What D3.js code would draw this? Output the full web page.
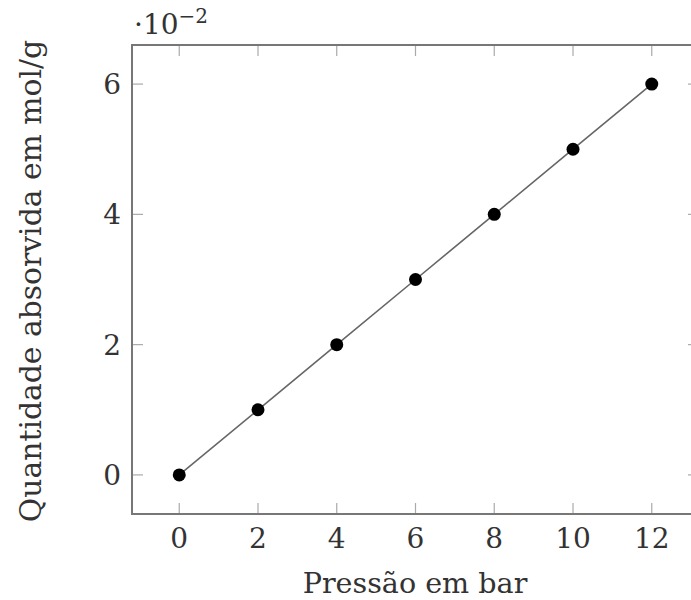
<!DOCTYPE html>
<html>
<head>
<meta charset="utf-8">
<title>D3</title>
<script src="https://d3js.org/d3.v7.min.js"></script>
<style>
body { margin: 0; background: #fff; }
</style>
</head>
<body>
<script>

var pressao = [0, 2, 4, 6, 8, 10, 12];
var quantidade = [0, 1, 2, 3, 4, 5, 6];   // em unidades de 10^-2
var xTicks = [0, 2, 4, 6, 8, 10, 12];
var yTicks = [0, 2, 4, 6];

var fonte = "'DejaVu Serif', serif";

var margin = {top: 45, right: -8, bottom: 86, left: 132},
    width = 691 - margin.left - margin.right,
    height = 600 - margin.top - margin.bottom;

var svg = d3.select("body").append("svg")
    .attr("width", 691)
    .attr("height", 600);

var g = svg.append("g")
    .attr("transform", "translate(" + margin.left + "," + margin.top + ")");

var x = d3.scaleLinear().domain([-1.2, 13.2]).range([0, width]);
var y = d3.scaleLinear().domain([-0.6, 6.6]).range([height, 0]);

// ticks on all four sides, pointing inward
var tickLen = 11;
var tickColor = "#aaa";
xTicks.forEach(function(t) {
  g.append("line").attr("x1", x(t)).attr("x2", x(t))
    .attr("y1", height).attr("y2", height - tickLen)
    .attr("stroke", tickColor).attr("stroke-width", 1.2);
  g.append("line").attr("x1", x(t)).attr("x2", x(t))
    .attr("y1", 0).attr("y2", tickLen)
    .attr("stroke", tickColor).attr("stroke-width", 1.2);
});
yTicks.forEach(function(t) {
  g.append("line").attr("x1", 0).attr("x2", tickLen)
    .attr("y1", y(t)).attr("y2", y(t))
    .attr("stroke", tickColor).attr("stroke-width", 1.2);
  g.append("line").attr("x1", width).attr("x2", width - tickLen)
    .attr("y1", y(t)).attr("y2", y(t))
    .attr("stroke", tickColor).attr("stroke-width", 1.2);
});

// frame
g.append("rect")
  .attr("x", 0).attr("y", 0)
  .attr("width", width).attr("height", height)
  .attr("fill", "none")
  .attr("stroke", "#777")
  .attr("stroke-width", 2);

// tick labels
g.selectAll(".xl").data(xTicks).enter().append("text")
  .attr("x", function(d) { return x(d); })
  .attr("y", height + 34)
  .attr("text-anchor", "middle")
  .attr("font-family", fonte).attr("fill", "#333")
  .attr("font-size", 28)
  .text(function(d) { return d; });

g.selectAll(".yl").data(yTicks).enter().append("text")
  .attr("x", -11)
  .attr("y", function(d) { return y(d) + 10; })
  .attr("text-anchor", "end")
  .attr("font-family", fonte).attr("fill", "#333")
  .attr("font-size", 28)
  .text(function(d) { return d; });

// exponent
var ex = svg.append("text").attr("x", 134).attr("y", 34)
  .attr("font-family", fonte).attr("fill", "#333").attr("font-size", 28);
ex.append("tspan").text("·10");
ex.append("tspan").attr("font-size", 20).attr("dy", -11).text("−2");

// line
var line = d3.line()
  .x(function(d, i) { return x(pressao[i]); })
  .y(function(d) { return y(d); });

g.append("path")
  .datum(quantidade)
  .attr("d", line)
  .attr("fill", "none")
  .attr("stroke", "#666")
  .attr("stroke-width", 1.6);

g.selectAll("circle").data(quantidade).enter().append("circle")
  .attr("cx", function(d, i) { return x(pressao[i]); })
  .attr("cy", function(d) { return y(d); })
  .attr("r", 6.5)
  .attr("fill", "#000");

// axis labels
svg.append("text")
  .attr("x", 415).attr("y", 593)
  .attr("text-anchor", "middle")
  .attr("font-family", fonte).attr("fill", "#333")
  .attr("font-size", 28.6)
  .text("Pressão em bar");

svg.append("text")
  .attr("transform", "translate(41,281) rotate(-90)")
  .attr("text-anchor", "middle")
  .attr("font-family", fonte).attr("fill", "#333")
  .attr("font-size", 29.8)
  .text("Quantidade absorvida em mol/g");

</script>
</body>
</html>
